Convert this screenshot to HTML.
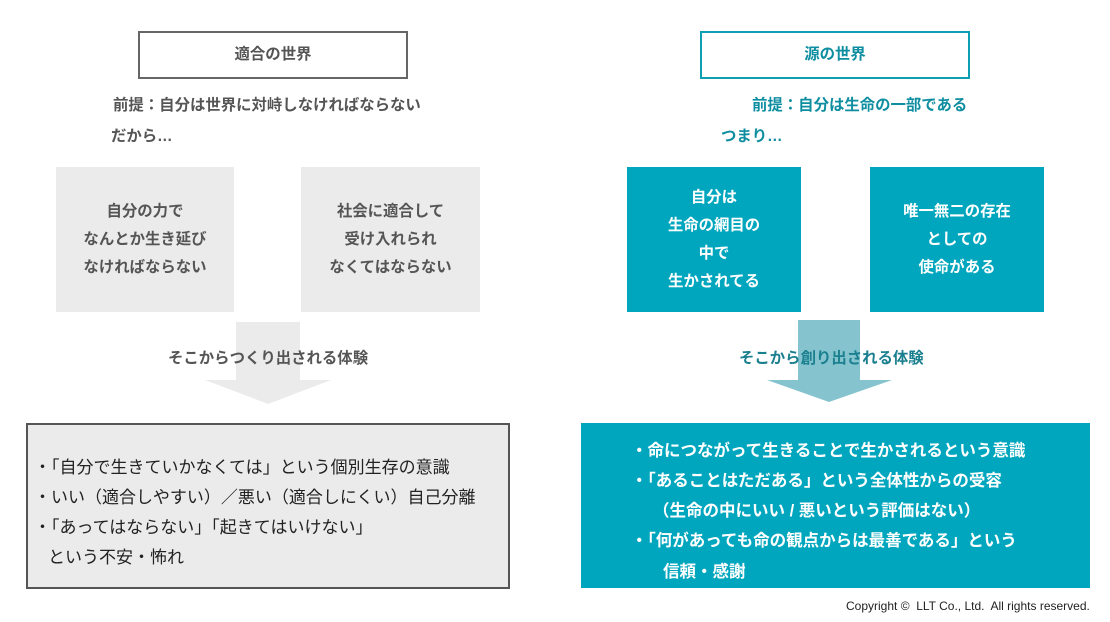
<!DOCTYPE html>
<html><head><meta charset="utf-8"><style>
body{margin:0;width:1110px;height:622px;background:#fff;position:relative;overflow:hidden;font-family:"Liberation Sans","Noto Sans CJK JP",sans-serif}
.a{position:absolute;white-space:nowrap}
.b{font-weight:bold;color:#555;font-size:15.4px}
.t{color:#0e8ea0}
.box{position:absolute;box-sizing:border-box}
.c{display:flex;flex-direction:column;align-items:center;justify-content:center;text-align:center;line-height:28px;font-weight:bold;font-size:15.4px}
</style></head><body>
<div class="box c" style="left:138px;top:31px;width:270px;height:48px;border:2px solid #666;color:#555">適合の世界</div>
<div class="box c" style="left:700px;top:31px;width:270px;height:48px;border:2px solid #0e9fb2;color:#0e8ea0">源の世界</div>
<div class="a b" style="left:113px;top:93px">前提：自分は世界に対峙しなければならない</div>
<div class="a b" style="left:111px;top:124px">だから…</div>
<div class="a b t" style="left:752px;top:93px">前提：自分は生命の一部である</div>
<div class="a b t" style="left:721px;top:124px">つまり…</div>

<div class="box c" style="left:56px;top:167px;width:178px;height:145px;background:#ebebeb;color:#555">自分の力で<br>なんとか生き延び<br>なければならない</div>
<div class="box c" style="left:301px;top:167px;width:179px;height:145px;background:#ebebeb;color:#555">社会に適合して<br>受け入れられ<br>なくてはならない</div>
<div class="box c" style="left:627px;top:167px;width:174px;height:145px;background:#00a6bd;color:#fff">自分は<br>生命の網目の<br>中で<br>生かされてる</div>
<div class="box c" style="left:870px;top:167px;width:174px;height:145px;background:#00a6bd;color:#fff">唯一無二の存在<br>としての<br>使命がある</div>

<svg class="a" style="left:0;top:0" width="1110" height="622">
<polygon points="236,322 300,322 300,380 331,380 268,404 205,380 236,380" fill="#ebebeb"/>
<polygon points="798,320 860,320 860,380 892,380 829,402 767,380 798,380" fill="#85c4ce"/>
</svg>
<div class="a b" style="left:168px;top:346px">そこからつくり出される体験</div>
<div class="a b" style="left:739px;top:346px;color:#1a7f8e">そこから創り出される体験</div>

<div class="box" style="left:26px;top:423px;width:484px;height:166px;border:2px solid #555;background:#ebebeb;color:#222;font-size:17px">
<div class="a" style="left:6px;top:28px">・「自分で生きていかなくては」という個別生存の意識</div>
<div class="a" style="left:6px;top:58px">・いい（適合しやすい）／悪い（適合しにくい）自己分離</div>
<div class="a" style="left:6px;top:88px">・「あってはならない」「起きてはいけない」</div>
<div class="a" style="left:20px;top:118px">という不安・怖れ</div>
</div>
<div class="box" style="left:581px;top:423px;width:509px;height:165px;background:#00a6bd;color:#fff;font-size:16.5px;font-weight:bold">
<div class="a" style="left:50px;top:14px">・命につながって生きることで生かされるという意識</div>
<div class="a" style="left:50px;top:44px">・「あることはただある」という全体性からの受容</div>
<div class="a" style="left:72px;top:74px">（生命の中にいい / 悪いという評価はない）</div>
<div class="a" style="left:50px;top:104px">・「何があっても命の観点からは最善である」という</div>
<div class="a" style="left:82px;top:135px">信頼・感謝</div>
</div>
<div class="a" style="left:846px;top:599px;font-size:12px;color:#222">Copyright ©&nbsp; LLT Co., Ltd.&nbsp; All rights reserved.</div>
</body></html>
